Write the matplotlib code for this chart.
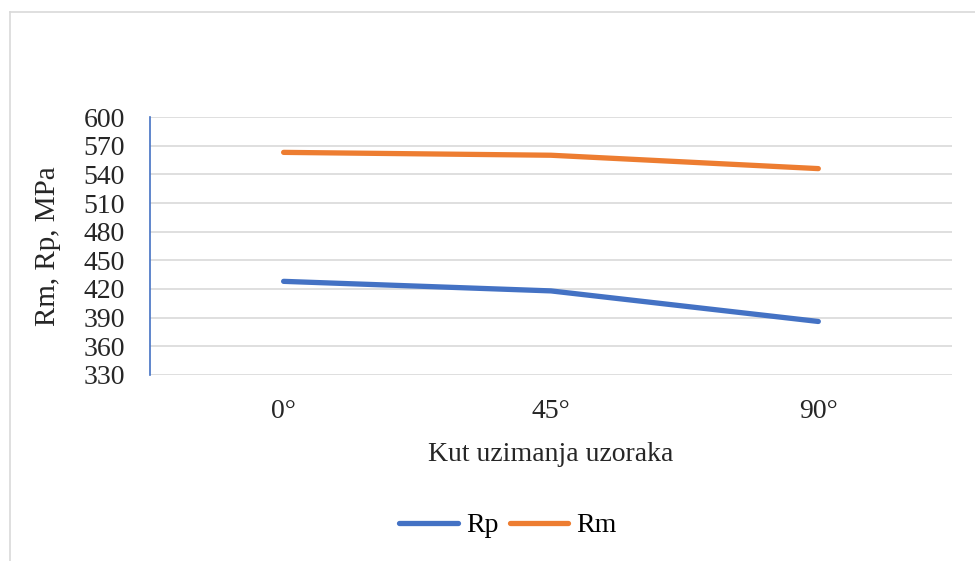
import matplotlib.pyplot as plt
from matplotlib.lines import Line2D

# data
angles = ["0°", "45°", "90°"]
rp = [428, 418, 386]
rm = [563, 560, 546]
y_ticks = [330, 360, 390, 420, 450, 480, 510, 540, 570, 600]

BLUE = "#4472C4"
ORANGE = "#ED7D31"
GRID = "#D9D9D9"

plt.rcParams["font.family"] = ["Liberation Serif", "DejaVu Serif"]

fig = plt.figure(figsize=(9.75, 5.61), dpi=100)
ax = fig.add_axes([0.1538, 0.3316, 0.8226, 0.4598])

x = range(len(angles))
ax.plot(x, rp, color=BLUE, lw=3.8, solid_capstyle="round", label="Rp")
ax.plot(x, rm, color=ORANGE, lw=3.8, solid_capstyle="round", label="Rm")

ax.set_xlim(-0.5, len(angles) - 0.5)
ax.set_ylim(330, 600)
ax.set_yticks(y_ticks)
ax.set_xticks(list(x))
ax.set_xticklabels(angles)
ax.yaxis.grid(True, color=GRID, lw=1.2)
ax.set_axisbelow(True)

for side in ["top", "right", "bottom"]:
    ax.spines[side].set_visible(False)
ax.spines["left"].set_color(BLUE)
ax.spines["left"].set_linewidth(1.2)
ax.tick_params(axis="both", length=0, labelsize=20, colors="#262626")
ax.tick_params(axis="y", pad=18)
ax.tick_params(axis="x", pad=17)

ax.set_xlabel("Kut uzimanja uzoraka", fontsize=20, labelpad=13, color="#262626")
ax.set_ylabel("Rm, Rp, MPa", fontsize=21, labelpad=16, color="#262626")

handles = [Line2D([0], [0], color=BLUE, lw=3.8, solid_capstyle="round"),
           Line2D([0], [0], color=ORANGE, lw=3.8, solid_capstyle="round")]
fig.legend(handles, ["Rp", "Rm"], loc="center", bbox_to_anchor=(0.521, 0.063),
           ncol=2, frameon=False, fontsize=20, handlelength=2.1,
           handletextpad=0.3, columnspacing=0.4)

# outer chart border (top and left visible in the reference)
fig.add_artist(Line2D([0.0103, 1.0], [0.979, 0.979], color=GRID, lw=1.2))
fig.add_artist(Line2D([0.0103, 0.0103], [0.0, 0.979], color=GRID, lw=1.2))

fig.savefig("out.png", dpi=100)
